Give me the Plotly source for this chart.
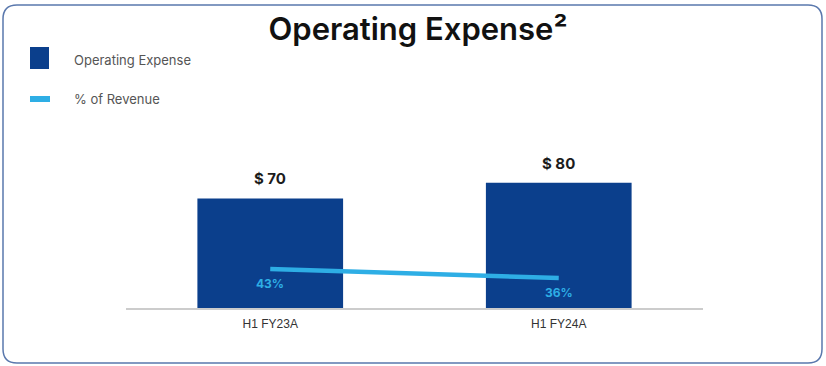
import plotly.graph_objects as go

# Chart data
categories = ["H1 FY23A", "H1 FY24A"]
opex_values = [70, 80]            # operating expense, $
pct_of_revenue = [43, 36]         # % of revenue
value_labels = ["$ 70", "$ 80"]
pct_labels = ["43%", "36%"]

W, H = 826, 366
M_L, M_R, M_T, M_B = 126, 123, 130, 58
PW, PH = W - M_L - M_R, H - M_T - M_B

BAR_BLUE = "#0b3f8c"
LINE_BLUE = "#2eaee5"


def px(x):
    return (x - M_L) / PW


def py(y):
    return (H - M_B - y) / PH


fig = go.Figure()

fig.add_trace(go.Bar(
    x=categories, y=opex_values, name="Operating Expense",
    marker=dict(color=BAR_BLUE, line=dict(width=0)),
    width=0.505, showlegend=False, hoverinfo="x+y",
))

fig.add_trace(go.Scatter(
    x=categories, y=pct_of_revenue, name="% of Revenue", yaxis="y2",
    mode="lines", line=dict(color=LINE_BLUE, width=4.5),
    cliponaxis=False, showlegend=False,
))

annotations = []

# value labels above the bars
for cat, val, lab in zip(categories, opex_values, value_labels):
    annotations.append(dict(
        x=cat, y=val, xref="x", yref="y", text=lab, showarrow=False,
        yanchor="bottom", yshift=8,
        font=dict(family="Inter", size=15, color="#1c1c1c", weight=700)))

# percentage labels under the line
for cat, val, lab in zip(categories, pct_of_revenue, pct_labels):
    annotations.append(dict(
        x=cat, y=val, xref="x", yref="y2", text=lab, showarrow=False,
        yanchor="middle", yshift=-14,
        font=dict(family="Inter", size=12, color=LINE_BLUE, weight=700)))

shapes = []

# rounded frame around the panel
x0, x1, y0, y1, r = 3, 822, 5, 363, 14
path = (
    f"M {px(x0 + r)},{py(y0)} L {px(x1 - r)},{py(y0)} "
    f"Q {px(x1)},{py(y0)} {px(x1)},{py(y0 + r)} "
    f"L {px(x1)},{py(y1 - r)} Q {px(x1)},{py(y1)} {px(x1 - r)},{py(y1)} "
    f"L {px(x0 + r)},{py(y1)} Q {px(x0)},{py(y1)} {px(x0)},{py(y1 - r)} "
    f"L {px(x0)},{py(y0 + r)} Q {px(x0)},{py(y0)} {px(x0 + r)},{py(y0)} Z"
)
shapes.append(dict(type="path", xref="paper", yref="paper", path=path,
                   line=dict(color="#5a78ad", width=1.5), layer="below"))

# legend swatches
shapes.append(dict(type="rect", xref="paper", yref="paper",
                   x0=px(30), x1=px(49), y0=py(69), y1=py(47),
                   fillcolor=BAR_BLUE, line=dict(width=0)))
shapes.append(dict(type="line", xref="paper", yref="paper",
                   x0=px(30), x1=px(50), y0=py(99), y1=py(99),
                   line=dict(color=LINE_BLUE, width=6)))

legend_font = dict(family="Inter", size=13, color="#555555")
annotations += [
    dict(text="Operating Expense", x=px(72), y=py(60), xref="paper", yref="paper",
         xanchor="left", yanchor="middle", showarrow=False, font=legend_font),
    dict(text="% of Revenue", x=px(72), y=py(99), xref="paper", yref="paper",
         xanchor="left", yanchor="middle", showarrow=False, font=legend_font),
]

fig.update_layout(
    width=W, height=H,
    margin=dict(l=M_L, r=M_R, t=M_T, b=M_B, pad=0),
    paper_bgcolor="white", plot_bgcolor="white",
    title=dict(text="Operating Expense²", x=418 / W, xanchor="center",
               y=1 - 29 / H, yanchor="middle",
               font=dict(family="Inter", size=31, color="#111111", weight=600)),
    xaxis=dict(range=[-0.5, 1.5], showline=True, linecolor="#cccccc", linewidth=1.5,
               showgrid=False, zeroline=False, ticks="", ticklabelstandoff=4,
               tickfont=dict(family="Liberation Sans", size=12, color="#333333")),
    yaxis=dict(range=[0, PH / 1.565], visible=False, showgrid=False, zeroline=False),
    yaxis2=dict(range=[12.7, 12.7 + PH / 1.286], overlaying="y", visible=False,
                showgrid=False, zeroline=False),
    shapes=shapes, annotations=annotations,
    showlegend=False,
)

fig.write_html("out.html")
